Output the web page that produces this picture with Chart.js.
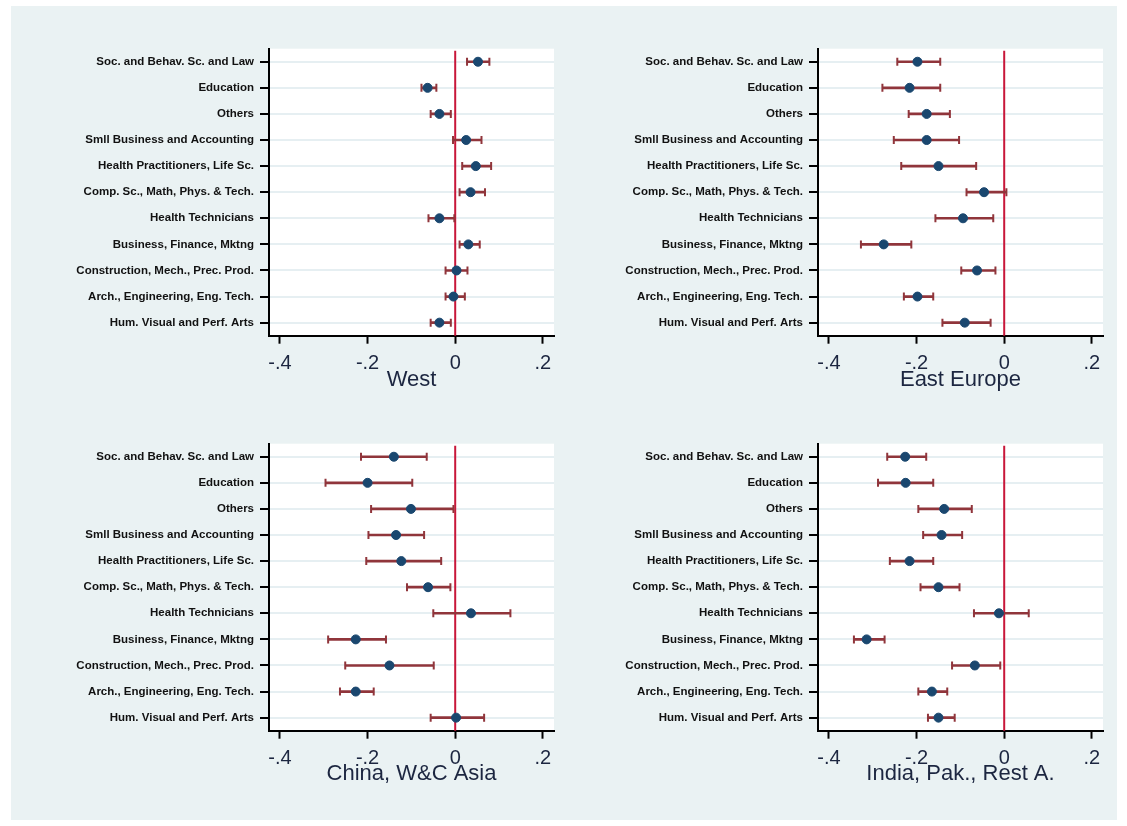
<!DOCTYPE html>
<html>
<head>
<meta charset="utf-8">
<script src="https://cdn.jsdelivr.net/npm/chart.js@4.4.1/dist/chart.umd.min.js"></script>
<style>
  html, body { margin: 0; padding: 0; background: #fff; }
  body { width: 1127px; height: 826px; position: relative; overflow: hidden; }
  #bg { position: absolute; left: 11px; top: 6px; width: 1106px; height: 814px; background: #eaf2f3; }
  canvas { position: absolute; }
</style>
</head>
<body>
<div id="bg"></div>
<canvas id="west" style="left:0;top:0" width="563" height="413"></canvas>
<canvas id="east" style="left:563px;top:0" width="564" height="413"></canvas>
<canvas id="china" style="left:0;top:413px" width="563" height="413"></canvas>
<canvas id="india" style="left:563px;top:413px" width="564" height="413"></canvas>
<script>
const categories = [
    'Soc. and Behav. Sc. and Law',
    'Education',
    'Others',
    'Smll Business and Accounting',
    'Health Practitioners, Life Sc.',
    'Comp. Sc., Math, Phys. & Tech.',
    'Health Technicians',
    'Business, Finance, Mktng',
    'Construction, Mech., Prec. Prod.',
    'Arch., Engineering, Eng. Tech.',
    'Hum. Visual and Perf. Arts'
];

const xTickValues = [-0.4, -0.2, 0, 0.2];
const xTickLabels = ['-.4', '-.2', '0', '.2'];

// West
const westCoef = [0.052, -0.063, -0.036, 0.025, 0.047, 0.035, -0.036, 0.030, 0.003, -0.004, -0.036];
const westLo = [0.027, -0.077, -0.056, -0.005, 0.016, 0.010, -0.061, 0.010, -0.022, -0.022, -0.056];
const westHi = [0.078, -0.043, -0.010, 0.060, 0.082, 0.068, -0.002, 0.056, 0.028, 0.022, -0.010];

// East Europe
const eastCoef = [-0.198, -0.216, -0.177, -0.177, -0.150, -0.046, -0.094, -0.275, -0.062, -0.198, -0.090];
const eastLo = [-0.244, -0.278, -0.218, -0.252, -0.235, -0.086, -0.157, -0.327, -0.098, -0.229, -0.141];
const eastHi = [-0.146, -0.146, -0.124, -0.103, -0.064, 0.005, -0.025, -0.212, -0.020, -0.162, -0.031];

// China, W&C Asia
const chinaCoef = [-0.140, -0.200, -0.101, -0.135, -0.123, -0.062, 0.036, -0.227, -0.150, -0.227, 0.002];
const chinaLo = [-0.215, -0.296, -0.192, -0.198, -0.203, -0.110, -0.050, -0.290, -0.251, -0.263, -0.056];
const chinaHi = [-0.065, -0.098, -0.004, -0.071, -0.032, -0.011, 0.126, -0.158, -0.049, -0.186, 0.066];

// India, Pak., Rest A.
const indiaCoef = [-0.226, -0.225, -0.137, -0.143, -0.216, -0.150, -0.012, -0.314, -0.067, -0.165, -0.150];
const indiaLo = [-0.267, -0.288, -0.196, -0.185, -0.261, -0.191, -0.069, -0.343, -0.119, -0.196, -0.174];
const indiaHi = [-0.178, -0.162, -0.074, -0.096, -0.162, -0.102, 0.056, -0.273, -0.009, -0.130, -0.113];

const navy = '#1a476f';
const maroon = '#90353b';
const zeroRed = '#c8173a';
const textColor = '#1c2640';

// white plot area + red line at zero, drawn under the marks
const plotDecor = {
    id: 'plotDecor',
    beforeDraw(chart) {
        const a = chart.chartArea;
        const ctx = chart.ctx;
        ctx.save();
        ctx.fillStyle = '#ffffff';
        ctx.fillRect(a.left, a.top, a.right - a.left, a.bottom - a.top);
        ctx.restore();
    },
    beforeDatasetsDraw(chart) {
        const a = chart.chartArea;
        const ctx = chart.ctx;
        const x0 = chart.scales.x.getPixelForValue(0);
        ctx.save();
        ctx.strokeStyle = zeroRed;
        ctx.lineWidth = 2;
        ctx.beginPath();
        ctx.moveTo(x0, a.top + 2);
        ctx.lineTo(x0, a.bottom);
        ctx.stroke();
        ctx.restore();
    }
};

function makePanel(id, title, coef, lo, hi, lay) {
    const capStyle = {
        type: 'line',
        showLine: false,
        pointStyle: 'line',
        pointRotation: 90,
        pointRadius: 4,
        pointBorderWidth: 2,
        pointBorderColor: maroon,
        pointBackgroundColor: maroon,
        order: 1
    };
    return new Chart(document.getElementById(id), {
        type: 'bar',
        data: {
            labels: categories,
            datasets: [
                {
                    type: 'line',
                    data: coef,
                    showLine: false,
                    pointStyle: 'circle',
                    pointRadius: 4.5,
                    pointBackgroundColor: navy,
                    pointBorderColor: navy,
                    pointBorderWidth: 1,
                    order: 0
                },
                Object.assign({data: lo}, capStyle),
                Object.assign({data: hi}, capStyle),
                {
                    type: 'bar',
                    data: lo.map((v, i) => [v, hi[i]]),
                    backgroundColor: maroon,
                    barThickness: 2,
                    order: 2
                }
            ]
        },
        options: {
            indexAxis: 'y',
            responsive: false,
            animation: false,
            layout: { padding: { top: lay.top, right: lay.right, left: 0, bottom: 0 } },
            plugins: { legend: { display: false }, tooltip: { enabled: false } },
            scales: {
                y: {
                    type: 'category',
                    offset: true,
                    afterFit: (s) => { s.width = lay.yWidth; },
                    border: { display: true, color: '#000', width: 2 },
                    grid: {
                        offset: false,
                        color: '#e6eff2',
                        lineWidth: 2,
                        tickColor: '#000',
                        tickWidth: 2,
                        tickLength: 9
                    },
                    ticks: {
                        autoSkip: false,
                        padding: 6,
                        color: '#111',
                        font: { family: 'Arial', size: 11.5, weight: 'bold' }
                    }
                },
                x: {
                    type: 'linear',
                    min: -0.425,
                    max: 0.2255,
                    afterFit: (s) => { s.height = lay.xHeight; },
                    afterBuildTicks: (s) => { s.ticks = xTickValues.map(v => ({ value: v })); },
                    border: { display: true, color: '#000', width: 2 },
                    grid: {
                        drawOnChartArea: false,
                        tickColor: '#000',
                        tickWidth: 2,
                        tickLength: 8
                    },
                    ticks: {
                        padding: 8,
                        maxRotation: 0,
                        color: textColor,
                        font: { family: 'Arial', size: 20 },
                        callback: (v) => xTickLabels[xTickValues.indexOf(v)]
                    },
                    title: {
                        display: true,
                        text: title,
                        color: textColor,
                        font: { family: 'Arial', size: 22 },
                        padding: { top: 0, bottom: lay.titleBottom }
                    }
                }
            }
        },
        plugins: [plotDecor]
    });
}

makePanel('west', 'West', westCoef, westLo, westHi,
    { top: 48.7, right: 9, yWidth: 269, xHeight: 77.3, titleBottom: 20 });
makePanel('east', 'East Europe', eastCoef, eastLo, eastHi,
    { top: 48.7, right: 24, yWidth: 255, xHeight: 77.3, titleBottom: 20 });
makePanel('china', 'China, W&C Asia', chinaCoef, chinaLo, chinaHi,
    { top: 30.7, right: 9, yWidth: 269, xHeight: 95.3, titleBottom: 39 });
makePanel('india', 'India, Pak., Rest A.', indiaCoef, indiaLo, indiaHi,
    { top: 30.7, right: 24, yWidth: 255, xHeight: 95.3, titleBottom: 39 });
</script>
</body>
</html>
